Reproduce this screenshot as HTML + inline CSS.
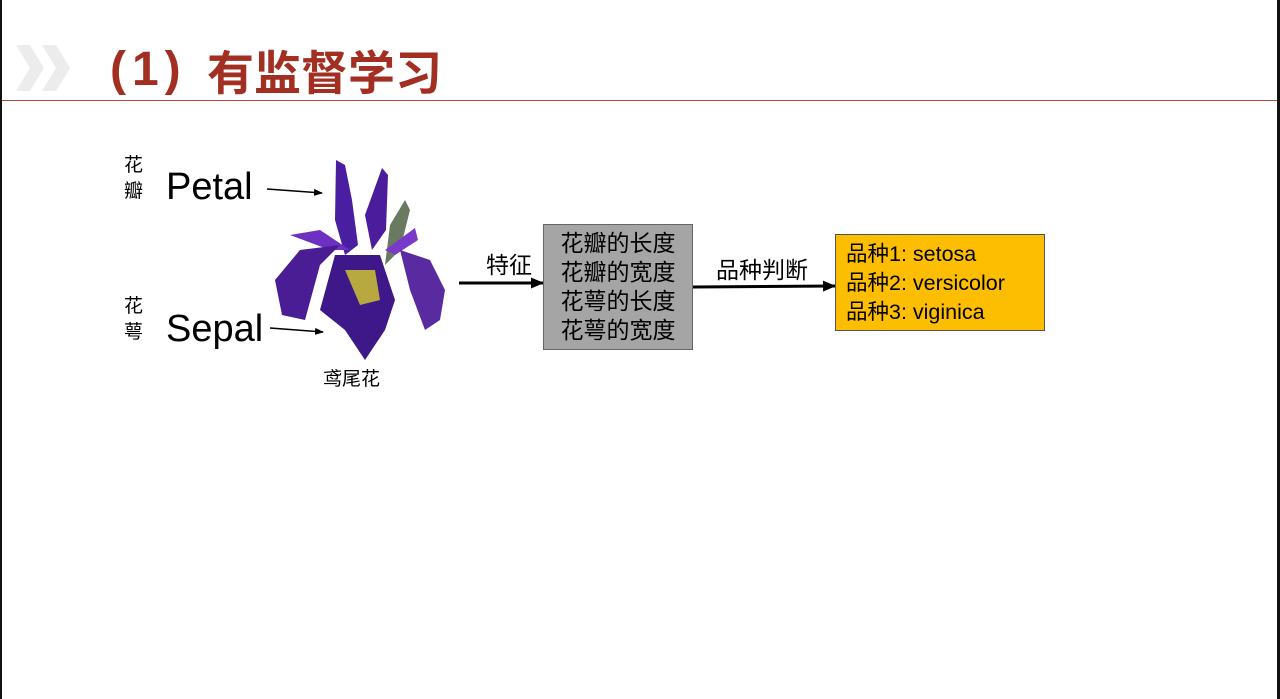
<!DOCTYPE html>
<html><head><meta charset="utf-8"><style>
body{margin:0;width:1280px;height:699px;background:#fff;position:relative;overflow:hidden;font-family:"Liberation Sans","Noto Sans CJK SC",sans-serif;}
.a{position:absolute;}
</style></head><body>
<div class="a" style="left:0;top:0;width:2px;height:699px;background:#111"></div>
<div class="a" style="left:1277px;top:0;width:3px;height:699px;background:#111"></div>
<div class="a" style="left:2px;top:100px;width:1275px;height:1px;background:#b04a40"></div>
<svg class="a" style="left:0;top:0" width="100" height="100">
<path d="M16,45 L30,45 L44,68 L30,91 L16,91 L30,68 Z" fill="#ececec"/>
<path d="M42,45 L56,45 L70,68 L56,91 L42,91 L56,68 Z" fill="#ececec"/>
</svg>
<div class="a" style="left:110px;top:40px;font-size:48px;font-weight:bold;color:#a22f22;line-height:60px;letter-spacing:6px;font-family:'Liberation Sans','Noto Sans CJK SC',sans-serif;">(1)</div>
<div class="a" style="left:207px;top:40px;font-size:47px;font-weight:bold;color:#a22f22;line-height:60px;font-family:'Noto Sans CJK SC',sans-serif;">有监督学习</div>
<div class="a" style="left:124px;top:151px;font-size:19px;line-height:26px;font-family:'Noto Sans CJK SC',sans-serif;">花<br>瓣</div>
<div class="a" style="left:124px;top:292px;font-size:19px;line-height:26px;font-family:'Noto Sans CJK SC',sans-serif;">花<br>萼</div>
<div class="a" style="left:166px;top:165px;font-size:38px;line-height:44px;">Petal</div>
<div class="a" style="left:166px;top:307px;font-size:38px;line-height:44px;">Sepal</div>
<svg class="a" style="left:0;top:0" width="1280" height="699">
<defs><marker id="m" markerUnits="userSpaceOnUse" markerWidth="13" markerHeight="13" refX="12" refY="6.5" orient="auto"><path d="M0,1L13,6.5L0,12z" fill="#000"/></marker>
<marker id="s" markerUnits="userSpaceOnUse" markerWidth="9" markerHeight="9" refX="8" refY="4.5" orient="auto"><path d="M0,1L9,4.5L0,8z" fill="#000"/></marker></defs>
<line x1="267" y1="189" x2="322" y2="193" stroke="#000" stroke-width="1.5" marker-end="url(#s)"/>
<line x1="270" y1="328" x2="323" y2="332" stroke="#000" stroke-width="1.5" marker-end="url(#s)"/>
<path d="M336,160 L345,165 L352,200 L358,245 L345,255 L335,220 Z" fill="#4a1ea0"/>
<path d="M382,168 L388,175 L386,230 L372,250 L365,215 Z" fill="#4b1c9c"/>
<path d="M405,200 L410,210 L400,250 L385,265 L390,225 Z" fill="#6a7a60"/>
<path d="M290,235 L320,230 L350,250 L330,250 Z" fill="#6d30c0"/>
<path d="M385,250 L415,228 L418,240 L395,255 Z" fill="#7a3ac8"/>
<path d="M300,250 L340,245 L320,265 L305,320 L282,315 L275,280 Z" fill="#4a1d95"/>
<path d="M400,250 L430,260 L445,290 L440,320 L425,330 L410,290 Z" fill="#5a2aa0"/>
<path d="M335,255 L380,255 L395,300 L385,330 L365,360 L345,330 L320,310 Z" fill="#3e1888"/>
<path d="M345,270 L375,270 L380,300 L360,305 Z" fill="#b8a840"/>
<line x1="459" y1="283" x2="543" y2="283" stroke="#000" stroke-width="3" marker-end="url(#m)"/>
<line x1="693" y1="287" x2="835" y2="286" stroke="#000" stroke-width="3" marker-end="url(#m)"/>
</svg>
<div class="a" style="left:323px;top:364px;font-size:19px;font-family:'Noto Sans CJK SC',sans-serif;">鸢尾花</div>
<div class="a" style="left:486px;top:250px;font-size:23px;line-height:30px;">特征</div>
<div class="a" style="left:543px;top:224px;width:150px;height:126px;background:#a5a5a5;border:1px solid #666;font-size:23px;line-height:29px;text-align:center;padding-top:4px;box-sizing:border-box;">花瓣的长度<br>花瓣的宽度<br>花萼的长度<br>花萼的宽度</div>
<div class="a" style="left:716px;top:255px;font-size:23px;line-height:30px;">品种判断</div>
<div class="a" style="left:835px;top:234px;width:210px;height:97px;background:#fdbd00;border:1px solid #555;box-sizing:border-box;font-size:21.5px;line-height:29px;padding:5px 0 0 10px;">品种1: setosa<br>品种2: versicolor<br>品种3: viginica</div>
</body></html>
